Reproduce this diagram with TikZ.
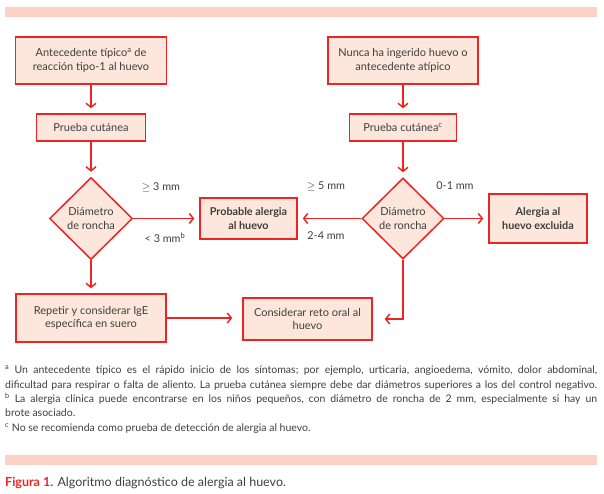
\documentclass[tikz,border=0pt]{standalone}
\usepackage{fontspec}
\setmainfont{Lato}
\usetikzlibrary{shapes.geometric,arrows.meta}
\definecolor{rojo}{RGB}{237,36,36}
\definecolor{rosa}{RGB}{253,231,221}
\definecolor{franja}{RGB}{251,211,196}
\definecolor{texto}{RGB}{62,62,62}
\begin{document}
\begin{tikzpicture}[x=1pt,y=-1pt,
    caja/.style={draw=rojo,fill=rosa,line width=1.5pt,inner sep=0pt,align=center,
      text=texto,font=\fontsize{11}{13.5}\selectfont},
    rombo/.style={caja,diamond,aspect=1},
    rama/.style={inner sep=0pt,text=texto,font=\fontsize{10.8}{12}\selectfont},
    flecha/.style={draw=rojo,line width=1.5pt,
      -{Straight Barb[length=4pt,width=10pt]},shorten >=5pt}]
  \useasboundingbox (0,0) rectangle (604,494);
  \fill[franja] (5,7) rectangle (597,17);
  \fill[franja] (5,455) rectangle (597,465);
  \draw
    (91,60.5) node[caja,minimum width=151,minimum height=47] (ante)
      {Antecedente típico\textsuperscript{a} de\\reacción tipo-1 al huevo}
    (403,60.5) node[caja,minimum width=150,minimum height=47] (nunca)
      {Nunca ha ingerido huevo o\\antecedente atípico}
    (91,127.5) node[caja,minimum width=109,minimum height=27] (prueba1)
      {Prueba cutánea}
    (403,127.5) node[caja,minimum width=107,minimum height=27] (prueba2)
      {Prueba cutánea\textsuperscript{c}}
    (91,218.5) node[rombo,minimum width=83,minimum height=82] (diam1)
      {Diámetro\\de roncha}
    (403,218.5) node[rombo,minimum width=82,minimum height=81] (diam2)
      {Diámetro\\de roncha}
    (248.5,218.5) node[caja,minimum width=97,minimum height=41,font=\fontsize{10.8}{13.5}\selectfont\bfseries] (prob)
      {Probable alergia\\al huevo}
    (538,218.5) node[caja,minimum width=98,minimum height=49,font=\fontsize{10.8}{13.5}\selectfont\bfseries] (excl)
      {Alergia al\\huevo excluida}
    (91,318) node[caja,minimum width=150,minimum height=48] (rep)
      {Repetir y considerar IgE\\específica en suero}
    (307.5,319) node[caja,minimum width=129,minimum height=42] (reto)
      {Considerar reto oral al\\huevo};
  \node[rama] (may3) at (161,187) {$\geq$ 3 mm};
  \node[rama] (men3) at (165,238) {< 3 mm\textsuperscript{b}};
  \node[rama] (may5) at (326,186) {$\geq$ 5 mm};
  \node[rama] (de24) at (326,236) {2-4 mm};
  \node[rama] (de01) at (455,186) {0-1 mm};
  \begin{scope}[flecha]
    \draw (ante) to (prueba1);
    \draw (prueba1) to (diam1);
    \draw (diam1) to (prob);
    \draw (diam1) to (rep);
    \draw (nunca) to (prueba2);
    \draw (prueba2) to (diam2);
    \draw (diam2) to (prob);
    \draw (diam2) to (excl);
    \draw[shorten >=10pt] (rep.east) to (rep.east -| reto.west);
    \draw[shorten >=12pt] (diam2.south) |- (reto.east);
  \end{scope}
  \node[anchor=north west,inner sep=0pt,text width=592pt,align=justify,text=texto,
    font=\fontsize{10.5}{14.3}\selectfont\frenchspacing] (notas) at (5,366)
    {\textsuperscript{a} Un antecedente típico es el rápido inicio de los síntomas; por ejemplo, urticaria, angioedema, vómito, dolor abdominal,\linebreak
     dificultad para respirar o falta de aliento. La prueba cutánea siempre debe dar diámetros superiores a los del control negativo.\linebreak
     \textsuperscript{b} La alergia clínica puede encontrarse en los niños pequeños, con diámetro de roncha de 2 mm, especialmente si hay un\linebreak
     brote asociado.\\
     \textsuperscript{c} No se recomienda como prueba de detección de alergia al huevo.};
  \node[anchor=west,inner sep=0pt,text=texto,font=\fontsize{12.5}{14}\selectfont] (pie) at (5,483)
    {\textcolor{rojo}{\bfseries Figura 1.} Algoritmo diagnóstico de alergia al huevo.};
\end{tikzpicture}
\end{document}
